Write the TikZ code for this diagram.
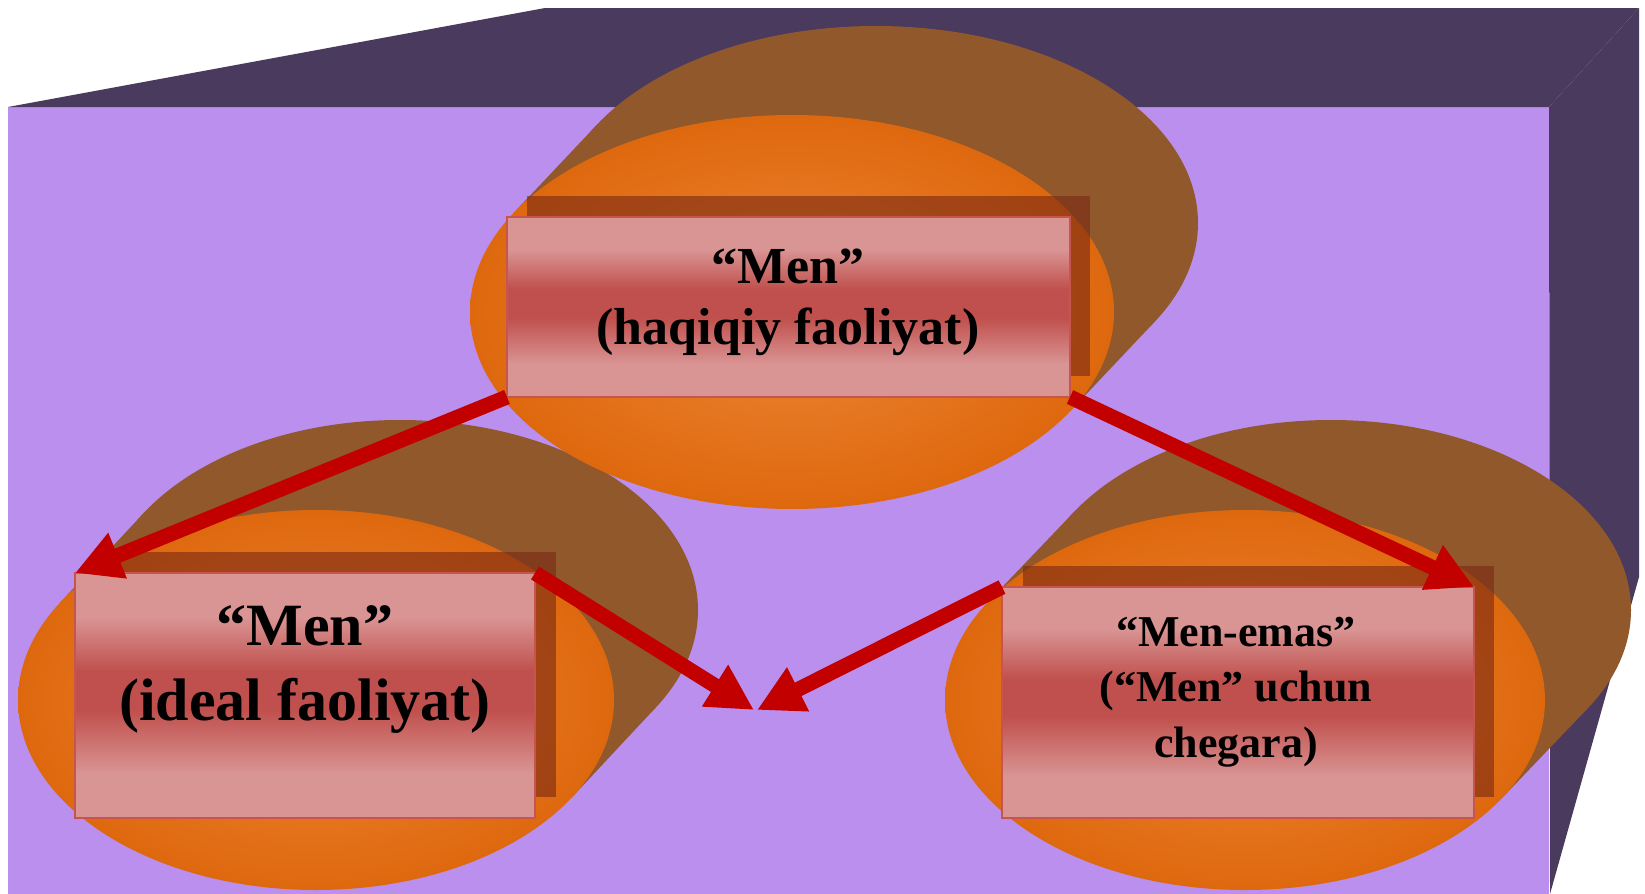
\documentclass[tikz,border=0pt]{standalone}
\usepackage{fontspec}
\setmainfont{Liberation Serif}
\usetikzlibrary{arrows.meta}
\definecolor{frontc}{RGB}{187,143,237}
\definecolor{darkc}{RGB}{74,58,94}
\definecolor{brownc}{RGB}{145,88,43}
\definecolor{orangeL}{RGB}{238,135,55}
\definecolor{orangeD}{RGB}{222,104,14}
\definecolor{boxL}{RGB}{217,149,148}
\definecolor{boxD}{RGB}{192,80,77}
\definecolor{boxB}{RGB}{200,84,78}
\definecolor{rshad}{RGB}{120,40,20}
\definecolor{arrc}{RGB}{194,0,0}
\pgfdeclareverticalshading{boxshade}{100bp}{color(0bp)=(boxL); color(25bp)=(boxL); color(34bp)=(boxL); color(47bp)=(boxD); color(55bp)=(boxD); color(66bp)=(boxL); color(75bp)=(boxL); color(100bp)=(boxL)}
% brown extruded hull: cx cy a b dx dy
\newcommand{\brownhull}[6]{%
  \pgfmathsetmacro{\hullt}{atan2(-(#4/100)*#5,(#3/100)*#6)}%
  \fill[brownc] ({#1+#3*cos(\hullt)},{#2+#4*sin(\hullt)})
     -- ({#1+#3*cos(\hullt)+#5},{#2+#4*sin(\hullt)+#6})
     -- ({#1-#3*cos(\hullt)+#5},{#2-#4*sin(\hullt)+#6})
     -- ({#1-#3*cos(\hullt)},{#2-#4*sin(\hullt)}) -- cycle;
  \fill[brownc] ({#1+#5},{#2+#6}) ellipse [x radius=#3, y radius=#4];
  \shade[inner color=orangeL, outer color=orangeD] (#1,#2) ellipse [x radius=#3, y radius=#4];
}
\begin{document}
\begin{tikzpicture}[x=0.5pt,y=-0.5pt,
  boxn/.style={rectangle, draw=boxB, line width=0.6pt, shade, shading=boxshade, inner sep=0pt, outer sep=0pt},
  rshadow/.style={fill=rshad, opacity=0.6},
  txt/.style={align=center, inner sep=0pt, text=black},
  arr/.style={draw=arrc, line width=7.5pt, -{Triangle[length=23pt,width=23pt]}}]
\useasboundingbox (0,0) rectangle (1645,894);
\fill[white] (0,0) rectangle (1645,894);
% cube faces
\fill[frontc] (8,107) rectangle (1549,894);
\fill[darkc] (8,107) -- (545,8) -- (1639,8) -- (1549,107) -- cycle;
\fill[darkc] (1549,107) -- (1639,8) -- (1639,577) -- (1550,894) -- cycle;
% left group
\brownhull{316}{700}{298}{190}{84}{-90}
\fill[rshadow] (96,552) rectangle (556,797);
\node[boxn, minimum width=230pt, minimum height=122.5pt] (left) at (305,695.5) {};
\node[txt, font=\fontsize{30}{37.5}\selectfont\bfseries] (tleft) at (305,670) {“Men”\\(ideal faoliyat)};
% right group
\brownhull{1245}{700}{300}{190}{86}{-90}
\fill[rshadow] (1023,566) rectangle (1494,797);
\node[boxn, minimum width=236pt, minimum height=115.5pt] (right) at (1238,702.5) {};
\node[txt, font=\fontsize{22}{27.75}\selectfont\bfseries] (tright) at (1236,692) {“Men-emas”\\(“Men” uchun\\chegara)};
% top group
\brownhull{792}{312}{322}{197}{84}{-89}
\fill[rshadow] (527,196) rectangle (1090,376);
\node[boxn, minimum width=281.5pt, minimum height=90pt] (top) at (788.5,307) {};
\node[txt, font=\fontsize{26}{30.5}\selectfont\bfseries] (ttop) at (788,302) {“Men”\\(haqiqiy faoliyat)};
% arrows
\coordinate (m1) at (754,710);
\coordinate (m2) at (757,710);
\draw[arr] (top.south west) -- (left.north west);
\draw[arr] (top.south east) -- (right.north east);
\draw[arr] (left.north east) -- (m1);
\draw[arr] (right.north west) -- (m2);
\end{tikzpicture}
\end{document}
